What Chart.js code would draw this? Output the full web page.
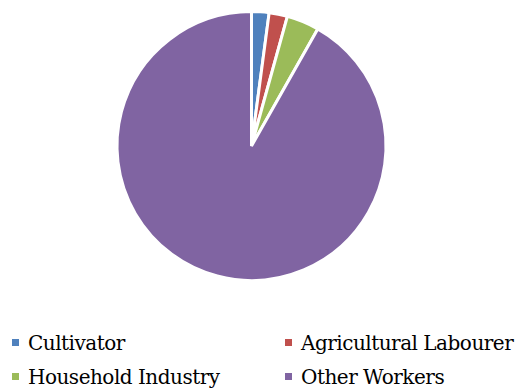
<!DOCTYPE html>
<html>
<head>
<meta charset="utf-8">
<script src="https://cdn.jsdelivr.net/npm/chart.js@4.4.1/dist/chart.umd.min.js"></script>
<style>
  html, body { margin: 0; padding: 0; background: #fff; }
  #wrap { position: relative; width: 520px; height: 390px; overflow: hidden; }
  #pie { position: absolute; left: 0; top: 0; }
  .leg { position: absolute; font-family: "DejaVu Serif", serif; font-size: 20px; letter-spacing: -0.5px; color: #000; white-space: nowrap; line-height: 24px; }
  .leg i { display: inline-block; width: 7px; height: 7px; margin-right: 9px; vertical-align: 4px; }
</style>
</head>
<body>
<div id="wrap">
  <canvas id="pie" width="520" height="292"></canvas>
</div>
<script>
// parts of the workforce
const labels = ['Cultivator', 'Agricultural Labourer', 'Household Industry', 'Other Workers'];
const shares = [2.1, 2.2, 3.9, 91.8];
const colors = ['#4F81BD', '#C0504D', '#9BBB59', '#8064A2'];

new Chart(document.getElementById('pie'), {
  type: 'pie',
  data: {
    labels,
    datasets: [{ data: shares, backgroundColor: colors, borderColor: '#fff', borderWidth: 3 }],
  },
  options: {
    responsive: false, animation: false,
    layout: { padding: { top: 10, bottom: 10, left: 0, right: 17 } },
    plugins: { legend: { display: false }, tooltip: { enabled: false } },
  },
});

// legend in two columns, like the original
const wrap = document.getElementById('wrap');
const spots = [[12, 331], [285, 331], [12, 365], [285, 365]];
labels.forEach((l, i) => {
  const d = document.createElement('div');
  d.className = 'leg';
  d.style.left = spots[i][0] + 'px';
  d.style.top = spots[i][1] + 'px';
  d.innerHTML = `<i style="background:${colors[i]}"></i>${l}`;
  wrap.appendChild(d);
});
</script>
</body>
</html>
